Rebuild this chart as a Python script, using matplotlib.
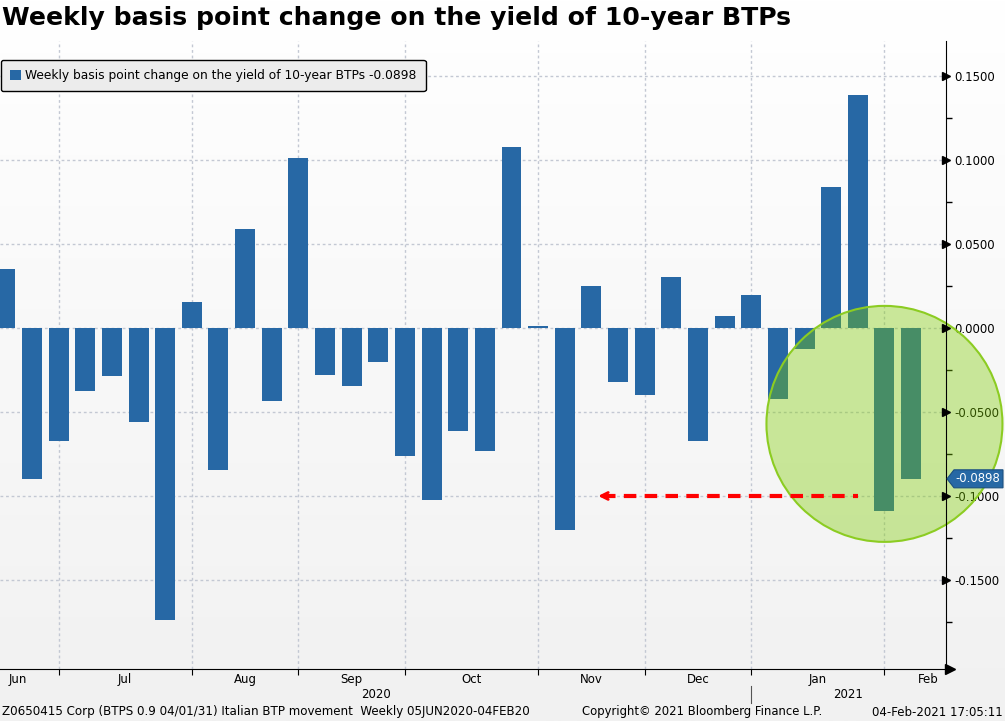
import numpy as np
import matplotlib
matplotlib.use("Agg")
import matplotlib.pyplot as plt
from matplotlib.patches import Ellipse, Polygon, Patch
from matplotlib.transforms import IdentityTransform

# weekly change in the 10y BTP yield, one bar per week (Jun 2020 - Feb 2021)
changes = [
    0.0351, -0.0899, -0.0673, -0.0375, -0.0286, -0.0560, -0.1738, 0.0155,
    -0.0845, 0.0589, -0.0435, 0.1012, -0.0280, -0.0345, -0.0202, -0.0762,
    -0.1024, -0.0613, -0.0732, 0.1077, 0.0012, -0.1202, 0.0250, -0.0321,
    -0.0399, 0.0304, -0.0673, 0.0071, 0.0196, -0.0423, -0.0125, 0.0839,
    0.1387, -0.1089, -0.0898,
]
last_value = changes[-1]

# first bar of each month (index) -> vertical gridlines
month_starts = [2, 7, 11, 15, 20, 24, 28, 33]
month_names = ["Jun", "Jul", "Aug", "Sep", "Oct", "Nov", "Dec", "Jan", "Feb"]
month_label_pos = [0.45, 4.5, 9.0, 13.0, 17.5, 22.0, 26.0, 30.5, 34.65]
years = ["2020", "2021"]
year_label_pos = [13.9, 31.65]
year_break = 28

y_major = [-0.15, -0.10, -0.05, 0.0, 0.05, 0.10, 0.15]

title = "Weekly basis point change on the yield of 10-year BTPs"
series_name = "Weekly basis point change on the yield of 10-year BTPs"
footer_left = "Z0650415 Corp (BTPS 0.9 04/01/31) Italian BTP movement  Weekly 05JUN2020-04FEB20"
footer_mid = "Copyright\u00a9 2021 Bloomberg Finance L.P."
footer_right = "04-Feb-2021 17:05:11"

BLUE = "#2768a5"
GRID = "#c3c8d3"

plt.rcParams["font.family"] = ["DejaVu Sans"]

W, H = 1005, 721
fig = plt.figure(figsize=(W / 100, H / 100), dpi=100)

# full figure background gradient
bg = fig.add_axes([0, 0, 1, 1], zorder=-10)
grad = np.linspace(1.0, 0.0, 256).reshape(-1, 1)
bg.imshow(grad, aspect="auto", cmap=matplotlib.colors.LinearSegmentedColormap.from_list(
    "bg", ["#f1f1f1", "#ffffff"]), extent=[0, 1, 0, 1], origin="upper")
bg.set_axis_off()

ax = fig.add_axes([0, (H - 669) / H, 946 / W, (669 - 41) / H])
ax.set_facecolor("none")

x = np.arange(len(changes))
bars = ax.bar(x, changes, width=0.75, color=BLUE, label=f"{series_name} {last_value:.4f}", zorder=3)

ax.set_xlim(-0.2, 35.31)
ax.set_ylim(-0.2030, 0.1708)

# grid
for m in month_starts:
    ax.axvline(m, color=GRID, lw=1, ls=(0, (2, 2)), zorder=1)
for yv in y_major:
    ax.axhline(yv, color=GRID, lw=1, ls=(0, (2, 2)), zorder=1)

# spines
for s in ["top", "left"]:
    ax.spines[s].set_visible(False)
ax.spines["right"].set_color("black")
ax.spines["bottom"].set_color("black")
ax.spines["right"].set_zorder(6)
ax.spines["bottom"].set_zorder(6)

# x axis: ticks at month boundaries, month names in between
ax.set_xticks(month_starts)
ax.set_xticklabels([])
ax.tick_params(axis="x", which="major", length=4, direction="out", color="black")
ax.set_xticks(month_label_pos, minor=True)
ax.set_xticklabels(month_names, minor=True)
ax.tick_params(axis="x", which="minor", length=0, pad=3, labelsize=8.5)

# y axis on the right
ax.yaxis.tick_right()
ax.set_yticks(y_major)
ax.set_yticklabels([f"{v:.4f}" for v in y_major])
ax.set_yticks(np.arange(-0.175, 0.17, 0.025), minor=True)
ax.tick_params(axis="y", which="major", length=0, pad=6, labelsize=8.5)
ax.tick_params(axis="y", which="minor", length=4, width=1, color="black", direction="out")
ax.plot([1.0] * len(y_major), y_major, ls="none", marker=">", ms=6, color="black",
        transform=ax.get_yaxis_transform(), clip_on=False, zorder=7)
ax.plot(1.004, 0.0, marker=">", ms=7, color="black", transform=ax.transAxes,
        clip_on=False, zorder=7)

# years under month labels
for lab, pos in zip(years, year_label_pos):
    ax.annotate(lab, xy=(pos, 0), xycoords=("data", "axes fraction"), xytext=(0, -18),
                textcoords="offset points", ha="center", va="center", fontsize=8.5)
ax.plot([year_break, year_break], [-0.027, -0.054], color="#555555", lw=0.8,
        transform=ax.get_xaxis_transform(), clip_on=False)

# highlight circle over the last weeks
circ = Ellipse((33, -0.0571), width=2 * 118 / 26.64, height=2 * 118 / 1680,
               facecolor=(0.49, 0.80, 0.0, 0.38), edgecolor="#8ccc22", lw=1.5,
               zorder=5, clip_on=False)
ax.add_patch(circ)

# red dashed arrow pointing back to the November drop
ax.plot([22.45, 32.0], [-0.1, -0.1], color="red", lw=3, ls=(0, (3, 2)), zorder=6)
ax.annotate("", xy=(22.15, -0.1), xytext=(22.7, -0.1),
            arrowprops=dict(arrowstyle="->,head_width=0.25,head_length=0.5", color="red", lw=2),
            zorder=6)

# legend
leg = ax.legend(handles=[Patch(facecolor=BLUE, label=bars.get_label())], loc="upper left",
                bbox_to_anchor=(0.001, 0.0, 1, (669 - 60) / (669 - 41)), frameon=True,
                fancybox=True, edgecolor="black", facecolor="#ececec", framealpha=1,
                fontsize=8.8, handlelength=0.9, handleheight=0.9, handletextpad=0.35,
                borderpad=0.75, borderaxespad=0)
leg.get_frame().set_linewidth(1)

# current value tag
fig.canvas.draw()
_, yv = ax.transData.transform((0, last_value))
xl = ax.transAxes.transform((1, 0))[0]
tag = Polygon([[xl + 1, yv], [xl + 8, yv + 9], [W - 2, yv + 9], [W - 2, yv - 9], [xl + 8, yv - 9]],
              closed=True, facecolor=BLUE, edgecolor="#1b4f80", lw=0.8,
              transform=IdentityTransform(), clip_on=False, zorder=8)
fig.patches.append(tag)
fig.text((xl + 9) / W, yv / H, f"{last_value:.4f}", color="white", fontsize=8.4,
         va="center", ha="left", zorder=9)

# title and footer
fig.text(0.002, 1 - 18 / H, title, fontsize=18.1, fontweight="bold", va="center", ha="left")
fig.text(0.002, 1 - 712 / H, footer_left, fontsize=8.6, va="center", ha="left")
fig.text(582 / W, 1 - 712 / H, footer_mid, fontsize=8.4, va="center", ha="left")
fig.text(1 - 2 / W, 1 - 712 / H, footer_right, fontsize=8.5, va="center", ha="right")

fig.savefig("out.png", dpi=100)
